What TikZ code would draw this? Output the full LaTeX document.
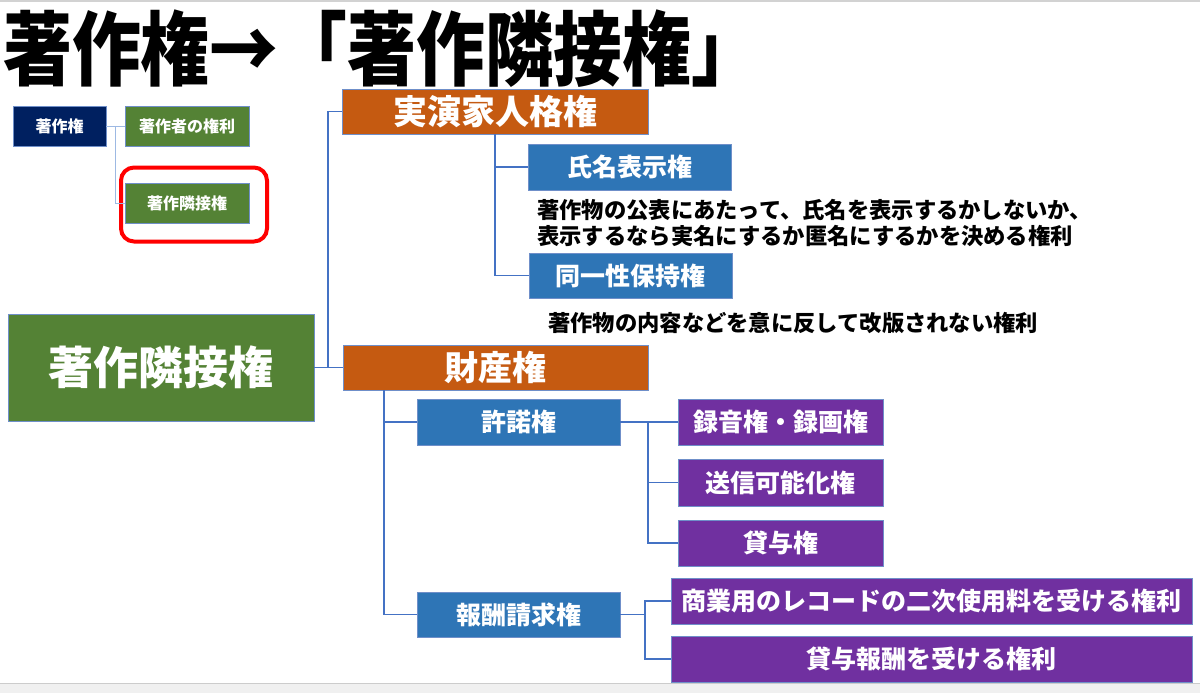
\documentclass[tikz,border=0pt]{standalone}
\usepackage{fontspec}
\newfontfamily\jp{Noto Sans CJK JP}
\definecolor{navyc}{HTML}{002060}
\definecolor{greenc}{HTML}{548235}
\definecolor{orangec}{HTML}{C55A11}
\definecolor{bluec}{HTML}{2E75B6}
\definecolor{purplec}{HTML}{7030A0}
\definecolor{connc}{HTML}{4472C4}
\definecolor{lightc}{HTML}{9DB9E3}
\definecolor{edgec}{HTML}{6F8FC9}
\tikzset{
  boxbase/.style={rectangle, inner sep=0pt, text=white, line width=0.8pt, draw=edgec},
  sz/.style={font=\jp\bfseries\fontsize{#1}{#1}\selectfont},
  navybox/.style={boxbase, fill=navyc},
  greenbox/.style={boxbase, fill=greenc},
  orangebox/.style={boxbase, fill=orangec},
  bluebox/.style={boxbase, fill=bluec},
  purplebox/.style={boxbase, fill=purplec},
  conn/.style={draw=connc, line width=1.8pt},
  lightconn/.style={draw=lightc, line width=1pt},
  desc/.style={anchor=west, inner sep=0pt, text=black, align=left, font=\jp\bfseries\fontsize{22.3}{26}\selectfont},
}
\begin{document}
\begin{tikzpicture}[x=1pt,y=-1pt]
\useasboundingbox (0,0) rectangle (1200,693);
\fill[white] (0,0) rectangle (1200,693);
\draw[gray!35, line width=2pt] (0,1) -- (1200,1);
\fill[gray!12] (0,683) rectangle (1200,693);
\draw[gray!40, line width=1pt] (0,683) -- (1200,683);

% title
\node[anchor=west, inner sep=0pt, font=\jp\bfseries\fontsize{81}{81}\selectfont] (title) at (3,49) {\scalebox{0.85}[1]{著作権→「著作隣接権」}};

% small overview
\node[navybox, sz=16, minimum width=93, minimum height=40] (kenri) at (59.5,126.5) {著作権};
\node[greenbox, sz=16, minimum width=124, minimum height=40] (chosakusha) at (187,126.5) {著作者の権利};
\node[greenbox, sz=16, minimum width=124, minimum height=40] (rinsmall) at (187,203) {著作隣接権};
\node[draw=red, line width=4pt, rounded corners=13pt, minimum width=146, minimum height=74, inner sep=0pt] (hl) at (194,204.5) {};
\coordinate (s1) at (115,126.5);
\draw[lightconn] (kenri.east) -- (chosakusha.west);
\draw[lightconn] (s1) |- (rinsmall.west);

% main tree
\node[greenbox, sz=45, minimum width=306, minimum height=107] (big) at (161,367.5) {著作隣接権};
\node[orangebox, sz=34, minimum width=306, minimum height=45] (jitsuen) at (495,111.5) {実演家人格権};
\node[bluebox, sz=25, minimum width=203, minimum height=46] (shimei) at (629.5,167) {氏名表示権};
\node[bluebox, sz=25, minimum width=203, minimum height=45] (doitsu) at (630.5,275.5) {同一性保持権};
\node[desc] (d1) at (537,223) {著作物の公表にあたって、氏名を表示するかしないか、\\表示するなら実名にするか匿名にするかを決める権利};
\node[desc] (d2) at (548,323) {著作物の内容などを意に反して改版されない権利};

\node[orangebox, sz=34, minimum width=305, minimum height=45] (zaisan) at (495.5,367.5) {財産権};
\node[bluebox, sz=25, minimum width=203, minimum height=46] (kyodaku) at (518.5,422) {許諾権};
\node[bluebox, sz=25, minimum width=203, minimum height=45] (hoshu) at (518.5,614.5) {報酬請求権};
\node[purplebox, sz=25, minimum width=205, minimum height=46] (rokuon) at (780.5,422) {録音権・録画権};
\node[purplebox, sz=25, minimum width=205, minimum height=47] (soshin) at (780.5,482.5) {送信可能化権};
\node[purplebox, sz=25, minimum width=205, minimum height=46] (taiyo) at (780.5,543) {貸与権};
\node[purplebox, sz=25, minimum width=521, minimum height=46] (shogyo) at (931.5,601) {商業用のレコードの二次使用料を受ける権利};
\node[purplebox, sz=25, minimum width=521, minimum height=46] (taiyohoshu) at (931.5,659) {貸与報酬を受ける権利};

\coordinate (j1) at (328,367.5);
\coordinate (z1) at (384,390);
\coordinate (k1) at (648,422);
\coordinate (h1) at (645,614.5);
\draw[conn] (big.east) -- (zaisan.west);
\draw[conn] (jitsuen.west) -| (j1);
\draw[conn] (jitsuen.south) |- (shimei.west);
\draw[conn] (jitsuen.south) |- (doitsu.west);
\draw[conn] (z1) |- (kyodaku.west);
\draw[conn] (z1) |- (hoshu.west);
\draw[conn] (kyodaku.east) -- (rokuon.west);
\draw[conn] (k1) |- (soshin.west);
\draw[conn] (k1) |- (taiyo.west);
\draw[conn] (hoshu.east) -- (h1);
\draw[conn] (h1) |- (shogyo.west);
\draw[conn] (h1) |- (taiyohoshu.west);
\end{tikzpicture}
\end{document}
